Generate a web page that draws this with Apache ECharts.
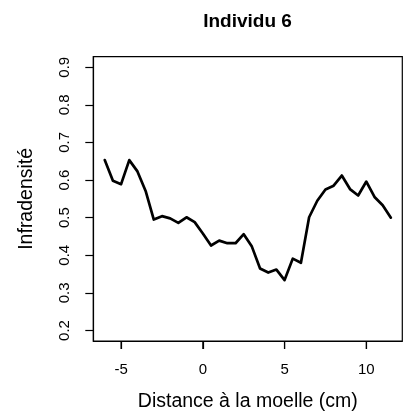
<!DOCTYPE html>
<html>
<head>
<meta charset="utf-8">
<script src="https://cdn.jsdelivr.net/npm/echarts@6/dist/echarts.min.js"></script>
<style>
html,body{margin:0;padding:0;background:#fff;}
#chart{width:404px;height:417px;}
</style>
</head>
<body>
<div id="chart"></div>
<script>
var distances = [-6, -5.5, -5, -4.5, -4, -3.5, -3, -2.5, -2, -1.5, -1, -0.5, 0, 0.5, 1, 1.5, 2, 2.5, 3, 3.5, 4, 4.5, 5, 5.5, 6, 6.5, 7, 7.5, 8, 8.5, 9, 9.5, 10, 10.5, 11, 11.5];
var infradensite = [0.653, 0.598, 0.589, 0.653, 0.623, 0.571, 0.495, 0.504, 0.498, 0.486, 0.501, 0.488, 0.458, 0.426, 0.439, 0.432, 0.432, 0.456, 0.423, 0.365, 0.354, 0.362, 0.334, 0.391, 0.380, 0.501, 0.545, 0.575, 0.585, 0.612, 0.576, 0.559, 0.596, 0.555, 0.533, 0.500];
var xTicks = [-5, 0, 5, 10];
var yTicks = [0.2, 0.3, 0.4, 0.5, 0.6, 0.7, 0.8, 0.9];
var titleText = 'Individu 6';
var xName = 'Distance à la moelle (cm)';
var yName = 'Infradensité';

var X_MIN = -6.7, X_MAX = 12.2, Y_MIN = 0.172, Y_MAX = 0.928;
var FONT = 'Liberation Sans, Arial, Helvetica, sans-serif';
var chart = echarts.init(document.getElementById('chart'), null, {renderer: 'canvas'});
var pts = distances.map(function (d, i) { return [d, infradensite[i]]; });

chart.setOption({
  animation: false,
  backgroundColor: '#fff',
  title: {
    text: titleText,
    left: 247.5,
    top: 12,
    padding: 0,
    textAlign: 'center',
    textStyle: {fontFamily: FONT, fontSize: 19, fontWeight: 'bold', color: '#000'}
  },
  grid: {
    left: 93.3, right: 1.7, top: 56.7, bottom: 76,
    show: true, borderColor: '#000', borderWidth: 1.2, backgroundColor: 'transparent',
    containLabel: false
  },
  xAxis: {
    type: 'value',
    position: 'bottom',
    min: X_MIN, max: X_MAX,
    name: xName,
    nameLocation: 'middle',
    nameGap: 51,
    nameTextStyle: {fontFamily: FONT, fontSize: 19.5, color: '#000'},
    axisLine: {show: true, onZero: false, lineStyle: {color: '#000', width: 1.2}},
    splitLine: {show: false},
    axisTick: {show: true, inside: false, length: 8, customValues: xTicks, lineStyle: {color: '#000', width: 1.2}},
    axisLabel: {show: true, customValues: xTicks, margin: 21, fontFamily: FONT, fontSize: 15, color: '#000'}
  },
  yAxis: {
    type: 'value',
    position: 'left',
    min: Y_MIN, max: Y_MAX,
    name: yName,
    nameLocation: 'middle',
    nameGap: 57,
    nameRotate: 90,
    nameTextStyle: {fontFamily: FONT, fontSize: 19.5, color: '#000'},
    axisLine: {show: true, onZero: false, lineStyle: {color: '#000', width: 1.2}},
    splitLine: {show: false},
    axisTick: {show: true, inside: false, length: 8, customValues: yTicks, lineStyle: {color: '#000', width: 1.2}},
    axisLabel: {customValues: yTicks, rotate: 90, margin: 21, fontFamily: FONT, fontSize: 15, color: '#000',
      formatter: function (v) { return v.toFixed(1); }}
  },
  series: [{
    type: 'line',
    data: pts,
    showSymbol: false,
    symbol: 'none',
    lineStyle: {color: '#000', width: 2.7, join: 'round', cap: 'round'},
    itemStyle: {color: '#000'}
  }, {
    type: 'custom',
    clip: false,
    silent: true,
    z: 10,
    data: xTicks.map(function (v) { return [v]; }),
    encode: {x: 0},
    renderItem: function (params, api) {
      var p = api.coord([api.value(0), Y_MIN]);
      return {
        type: 'line',
        shape: {x1: p[0], y1: p[1], x2: p[0], y2: p[1] + 8},
        style: {stroke: '#000', lineWidth: 1.2}
      };
    }
  }]
});
</script>
</body>
</html>
